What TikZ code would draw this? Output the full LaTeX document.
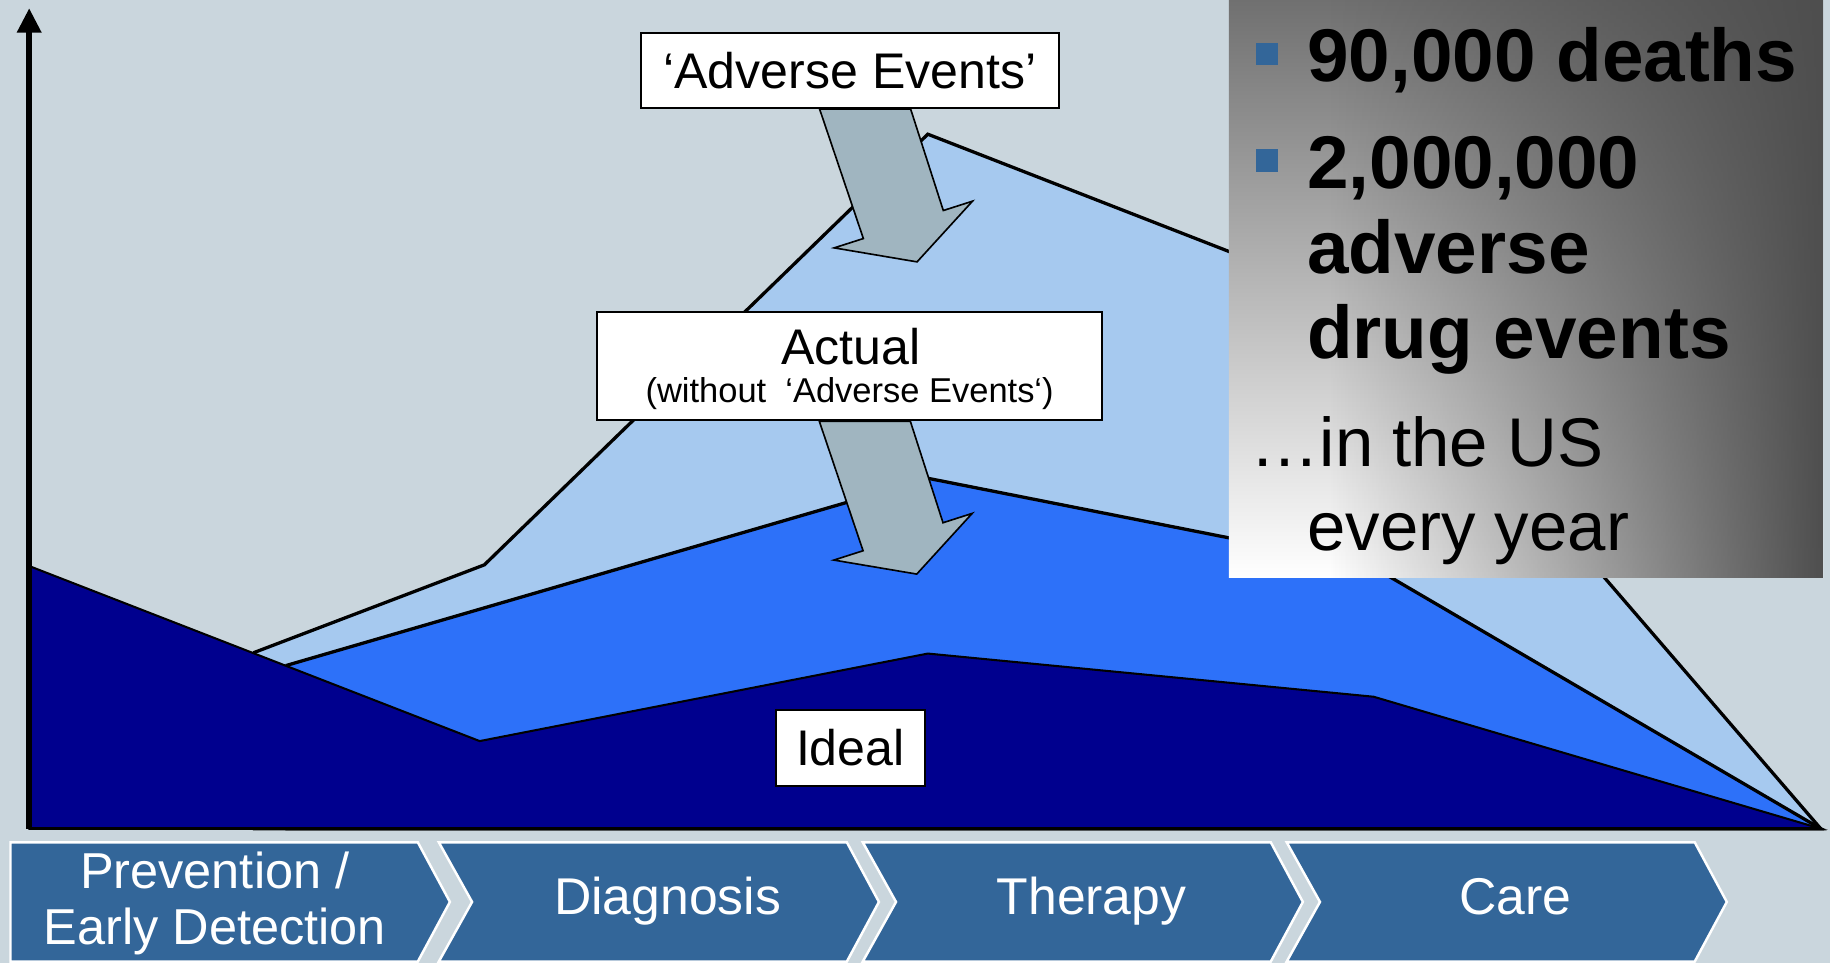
\documentclass[tikz,border=0pt]{standalone}
\usepackage{fontspec}
\setmainfont{Liberation Sans}
\usetikzlibrary{arrows.meta,fadings}

\definecolor{backgray}{RGB}{202,214,221}
\definecolor{adverseblue}{RGB}{166,201,239}
\definecolor{actualblue}{RGB}{45,113,249}
\definecolor{idealblue}{RGB}{0,0,142}
\definecolor{arrowgray}{RGB}{160,181,192}
\definecolor{phaseblue}{RGB}{51,102,153}
\definecolor{stattop}{RGB}{112,112,112}
\definecolor{statdark}{RGB}{78,78,78}

\tikzfading[name=statfade, left color=transparent!100, middle color=transparent!55, right color=transparent!0]

\begin{document}
\begin{tikzpicture}[x=0.01cm, y=-0.01cm, >=Triangle]
    \tikzstyle{labelbox}=[draw, fill=white, line width=0.5pt, inner sep=0pt, font=\fontsize{12.2pt}{14pt}\selectfont]
    \tikzstyle{area}=[draw=black, line width=0.8pt, line join=miter]
    \tikzstyle{bigarrow}=[fill=arrowgray, draw=black, line width=0.4pt, line join=miter]
    \tikzstyle{phase}=[fill=phaseblue, draw=white, line width=0.6pt]
    \tikzstyle{phasetext}=[text=white, inner sep=0pt, font=\fontsize{12.6pt}{13.6pt}\selectfont]
    \tikzstyle{stat}=[anchor=base west, inner sep=0pt, font=\fontsize{18.2pt}{20.8pt}\selectfont\bfseries]
    \tikzstyle{statplain}=[anchor=base west, inner sep=0pt, font=\fontsize{16.8pt}{20pt}\selectfont]

    % Sfondo
    \useasboundingbox[fill=backgray] (0,0) rectangle (1568,825);

    % Assi
    \coordinate (origin) at (25,710);
    \coordinate (ytop) at (25,7);
    \coordinate (xend) at (1560,710);

    % Aree
    \filldraw[area, fill=adverseblue] (218,559) -- (415,484) -- (795,115) -- (1175,263) -- (xend) -- (218,710) -- cycle;
    \filldraw[area, fill=actualblue] (246,570) -- (796,410) -- (1175,485) -- (xend) -- (246,710) -- cycle;
    \filldraw[area, fill=idealblue, line width=0.5pt] (25,485) -- (411,635) -- (795,560) -- (1177,597) -- (xend) -- (origin) -- cycle;

    \draw[line width=0.6pt] (origin) -- (xend);
    \draw[line width=1.4pt, -{Triangle[length=0.21cm, width=0.2cm]}] (origin) -- (ytop);

    % Riquadri
    \node[labelbox, minimum width=3.585cm, minimum height=0.64cm] (adverse) at (728.25,60.5) {‘Adverse Events’};
    \node[labelbox, minimum width=4.33cm, minimum height=0.93cm] (actual) at (728,313.5) {};
    \node[anchor=base, inner sep=0pt, font=\fontsize{12.2pt}{14pt}\selectfont] (actualtitle) at (729,312) {Actual};
    \node[anchor=base, inner sep=0pt, font=\fontsize{8.4pt}{10pt}\selectfont] (actualnote) at (728,345) {(without\ \ ‘Adverse Events‘)};
    \node[labelbox, minimum width=1.28cm, minimum height=0.65cm] (ideal) at (728.6,640.8) {Ideal};

    % Frecce
    \foreach \b in {adverse,actual}
        \draw[bigarrow, shift={(\b.south)}] (-26,0) -- (52,0) -- (80,87) -- (105,79) -- (57.5,131) -- (-13.5,119) -- (11.5,111) -- cycle;

    % Dati
    \shade[top color=stattop, bottom color=white] (1053,0) rectangle (1562,495);
    \fill[statdark, path fading=statfade] (1140,0) rectangle (1562,495);
    \fill[phaseblue] (1076,37) rectangle (1095,56);
    \fill[phaseblue] (1076,128) rectangle (1095,147);
    \node[stat] (deaths) at (1119.4,69.5) {90,000 deaths};
    \node[stat] (events) at (1119.4,161.3) {2,000,000};
    \node[stat] (eventsadv) at (1119.4,234.5) {adverse};
    \node[stat] (eventsdrug) at (1119.4,307.6) {drug events};
    \node[statplain] (where) at (1071,400) {…in the US};
    \node[statplain] (when) at (1119.4,472) {every year};

    % Fasi
    \draw[phase] (9,721.7) -- (358,721.7) -- (385.5,772.8) -- (358,823.9) -- (9,823.9) -- cycle;
    \node[phasetext, align=center, font=\fontsize{12.3pt}{13.6pt}\selectfont] (prevention) at (184,774) {Prevention /\\Early Detection};
    \foreach \k/\phasename/\phaselabel in {1/diagnosis/Diagnosis, 2/therapy/Therapy, 3/care/Care} {
        \pgfmathsetmacro{\xl}{376+363.25*(\k-1)}
        \draw[phase] (\xl,721.7) -- ++(349.6,0) -- ++(27.5,51.1) -- ++(-27.5,51.1) -- ++(-349.6,0) -- ++(28.5,-51.1) -- cycle;
        \node[phasetext, anchor=base] (\phasename) at (\xl+196,784) {\phaselabel};
    }
\end{tikzpicture}
\end{document}
